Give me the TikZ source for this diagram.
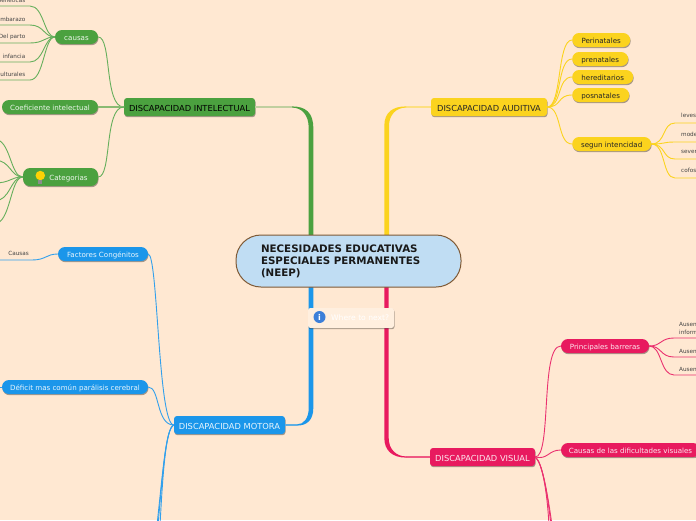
\documentclass[tikz,border=0pt]{standalone}
\usepackage{xcolor}
\usepackage{fontspec}
\setmainfont{DejaVu Sans}
\usetikzlibrary{
  shadows
}
\definecolor{mmBack}{HTML}{FFE8D2}
\definecolor{mmRoot}{HTML}{C0DDF3}
\definecolor{mmRootEdge}{HTML}{7F5A36}
\definecolor{mmGreen}{HTML}{4BA13F}
\definecolor{mmYellow}{HTML}{FBD31E}
\definecolor{mmBlue}{HTML}{1B96EA}
\definecolor{mmPink}{HTML}{E81A5F}
\definecolor{mmLeaf}{HTML}{444444}
\definecolor{mmInfo}{HTML}{3C7FD9}
\tikzset{
  mmshadow/.style={drop shadow={shadow xshift=0.5pt, shadow yshift=-1.2pt, opacity=0.35, fill=black}},
  rootnode/.style={
    draw=mmRootEdge, fill=mmRoot, line width=1pt, rounded corners=25pt, minimum height=52pt,
    text width=175pt, inner xsep=25pt, inner ysep=0pt, align=left,
    font=\fontsize{10.3}{12}\selectfont\bfseries, text=black!90
  },
  topbox/.style={
    rounded corners=3pt, minimum height=18pt, inner xsep=0pt, inner ysep=0pt, mmshadow,
    text height=8pt, text depth=0pt, font=\fontsize{8.3}{9}\selectfont
  },
  subpill/.style={
    rounded corners=7pt, minimum height=14pt, inner xsep=0pt, inner ysep=0pt, mmshadow,
    text height=6pt, text depth=0pt, font=\fontsize{7.1}{8}\selectfont
  },
  leaf/.style={font=\fontsize{5.7}{8}\selectfont, text=mmLeaf, inner sep=0pt, align=left},
  link/.style={line width=0.9pt, line cap=round},
  glink/.style={link, mmGreen!85},
  ylink/.style={link, mmYellow},
  blink/.style={link, mmBlue!90},
  plink/.style={link, mmPink!90},
  hintbox/.style={
    fill=mmBack!70!white, rounded corners=2.5pt, minimum width=86pt, minimum height=20pt,
    inner sep=0pt, mmshadow
  }
}
\begin{document}
\begin{tikzpicture}[x=1pt, y=-1pt]
  \clip (0,0) rectangle (696,520);
  \fill[mmBack] (0,0) rectangle (696,520);

  \node[topbox, fill=mmGreen, text=black, minimum width=131pt] (intel) at (189.5,107) {DISCAPACIDAD INTELECTUAL};
  \node[topbox, fill=mmYellow, text=black!85, minimum width=116pt] (audit) at (489,107) {DISCAPACIDAD AUDITIVA};
  \node[topbox, fill=mmBlue, text=white!90!mmBlue, minimum width=111pt] (motor) at (229.5,425) {DISCAPACIDAD MOTORA};
  \node[topbox, fill=mmPink, text=white!90!mmPink, minimum width=105pt] (visual) at (482.5,457) {DISCAPACIDAD VISUAL};

  % trunks to the root
  \coordinate (gbend) at (292,107);
  \coordinate (ybend) at (406,107);
  \coordinate (bbend) at (297,425);
  \coordinate (pbend) at (406,457);
  \draw[mmGreen!35!mmBack, line width=1.2pt] (intel.east) -- (gbend);
  \draw[mmYellow!45!mmBack, line width=1.2pt] (audit.west) -- (ybend);
  \draw[mmBlue!70!mmBack, line width=1.2pt] (motor.east) -- (bbend);
  \draw[mmPink!70!mmBack, line width=1.2pt] (visual.west) -- (pbend);
  \fill[mmGreen] (gbend) ++(0,-0.6) .. controls (305,106.4) and (313.3,112) .. (313.3,128) -- (313.3,236) -- (308.7,236)
    -- (308.7,128) .. controls (308.7,115) and (302,107.6) .. (292,107.6) -- cycle;
  \fill[mmYellow] (ybend) ++(0,-0.6) .. controls (393,106.4) and (384.3,112) .. (384.3,126) -- (384.3,236) -- (389,236)
    -- (389,126) .. controls (389,115) and (396,107.6) .. (406,107.6) -- cycle;
  \fill[mmBlue] (bbend) ++(0,0.6) .. controls (307,425.6) and (313.3,420) .. (313.3,408) -- (313.3,286) -- (308.7,286)
    -- (308.7,408) .. controls (308.7,418) and (304,424.4) .. (297,424.4) -- cycle;
  \fill[mmPink] (pbend) ++(0,0.6) .. controls (393,457.6) and (384.3,451) .. (384.3,438) -- (384.3,286) -- (388.7,286)
    -- (388.7,438) .. controls (388.7,449) and (396,456.4) .. (406,456.4) -- cycle;
  \node[rootnode] (root) at (348.5,261) {NECESIDADES EDUCATIVAS\\ESPECIALES PERMANENTES\\(NEEP)};

  \node[hintbox] (hint) at (351,318) {};
  \node[circle, fill=mmInfo, inner sep=0pt, minimum size=12pt, text=white, font=\fontsize{8}{8}\selectfont\bfseries] (hinticon) at (319.5,317) {i};
  \node[right=0pt, inner sep=0pt, text=white, font=\fontsize{7.6}{8}\selectfont] (hinttext) at (331,318) {Where to next?};

  % green branch
  \node[subpill, fill=mmGreen, text=white!90!mmGreen, minimum width=43pt] (causas) at (76.5,37) {causas};
  \node[subpill, fill=mmGreen, text=white!90!mmGreen, minimum width=96pt] (coef) at (50,107) {Coeficiente intelectual};
  \node[subpill, fill=mmGreen, text=white!90!mmGreen, minimum width=75pt, minimum height=18pt] (categ) at (60.5,177) {\hspace*{16pt}Categorias};
  \node[circle, fill=yellow!70!orange, inner sep=0pt, minimum size=9.5pt] (bulb) at (40.3,175.5) {};
  \node[fill=black!45, inner sep=0pt, minimum width=4pt, minimum height=3.5pt] (bulbbase) at (40.3,182) {};
  \draw[glink] (causas.east) .. controls (112,37) and (104,107) .. (intel.west);
  \draw[glink, mmGreen!65!mmBack, line width=1.4pt] (coef.east) -- (intel.west);
  \draw[glink] (categ.east) .. controls (112,177) and (104,107) .. (intel.west);
  \foreach \yl/\lbl/\i in {6/Geneticas/a, 25/Embarazo/b, 43/Del parto/c, 62/infancia/d, 80/culturales/e}{
    \coordinate (cend\i) at (-3,\yl);
    \node[leaf, anchor=east] (cleaf\i) at (25.5,\yl-5.7) {\lbl};
    \draw[glink] (causas.west) .. controls (44,37) and (44,\yl) .. (30,\yl) -- (cend\i);
  }
  \foreach \yl/\i in {139/a, 160/b, 183/c, 201/d, 224/e}{
    \coordinate (kend\i) at (-6,\yl);
    \draw[glink] (categ.west) .. controls (10,177) and (11,\yl) .. (kend\i);
  }

  % yellow branch
  \foreach \xw/\yl/\lbl/\i in {58/40/Perinatales/a, 56/59/prenatales/b, 61/77/hereditarios/c, 57/95/posnatales/d, 79/144/segun intencidad/e}{
    \node[subpill, fill=mmYellow, text=black!85, minimum width=\xw pt, anchor=west] (ysub\i) at (572,\yl) {\lbl};
    \draw[ylink] (audit.east) .. controls (562,107) and (557,\yl) .. (ysub\i.west);
  }
  \foreach \yl/\lbl/\i in {123/leves/a, 142/moderada/b, 159/severa/c, 178/cofosis/d}{
    \coordinate (yend\i) at (699,\yl);
    \node[leaf, anchor=west] (yleaf\i) at (681,\yl-7.5) {\lbl};
    \draw[ylink] (ysube.east) .. controls (666,144) and (662,\yl) .. (675,\yl) -- (yend\i);
  }

  % pink branch
  \node[subpill, fill=mmPink, text=white!90!mmPink, minimum width=88pt] (barrera) at (605,346) {Principales barreras};
  \node[subpill, fill=mmPink, text=white!90!mmPink, minimum width=139pt] (dific) at (630.5,450) {Causas de las dificultades visuales};
  \draw[plink] (visual.east) .. controls (552,457) and (540,346) .. (barrera.west);
  \draw[plink] (visual.east) .. controls (548,460) and (548,450) .. (dific.west);
  \foreach \xe in {549,551,552}{
    \coordinate (vend\xe) at (\xe,525);
    \draw[plink] (visual.east) .. controls (542,462) and (547,490) .. (vend\xe);
  }
  \foreach \yl/\lbl/\i in {338/{Ausencia\\información}/a, 357/Ausencia/b, 375/Ausencia/c}{
    \coordinate (pend\i) at (699,\yl);
    \node[leaf, anchor=south west] (pleaf\i) at (679,\yl-3) {\lbl};
    \draw[plink] (barrera.east) .. controls (662,346) and (660,\yl) .. (674,\yl) -- (pend\i);
  }

  % blue branch
  \node[subpill, fill=mmBlue, text=white!90!mmBlue, minimum width=90pt] (factor) at (103,254) {Factores Congénitos};
  \node[subpill, fill=mmBlue, text=white!90!mmBlue, minimum width=146pt] (deficit) at (75,387) {Déficit mas común parálisis cerebral};
  \draw[blink] (factor.east) .. controls (158,254) and (158,425) .. (motor.west);
  \draw[blink] (deficit.east) .. controls (160,387) and (156,425) .. (motor.west);
  \foreach \xe in {157,158,160}{
    \coordinate (mend\xe) at (\xe,525);
    \draw[blink] (motor.west) .. controls (166,428) and (163,470) .. (mend\xe);
  }
  \coordinate (fend) at (-3,260);
  \coordinate (dend) at (-3,387);
  \node[leaf, anchor=east] (causas2) at (29,253) {Causas};
  \draw[blink] (factor.west) .. controls (46,254) and (46,260) .. (32,260) -- (fend);
  \draw[blink] (deficit.west) -- (dend);
\end{tikzpicture}
\end{document}
